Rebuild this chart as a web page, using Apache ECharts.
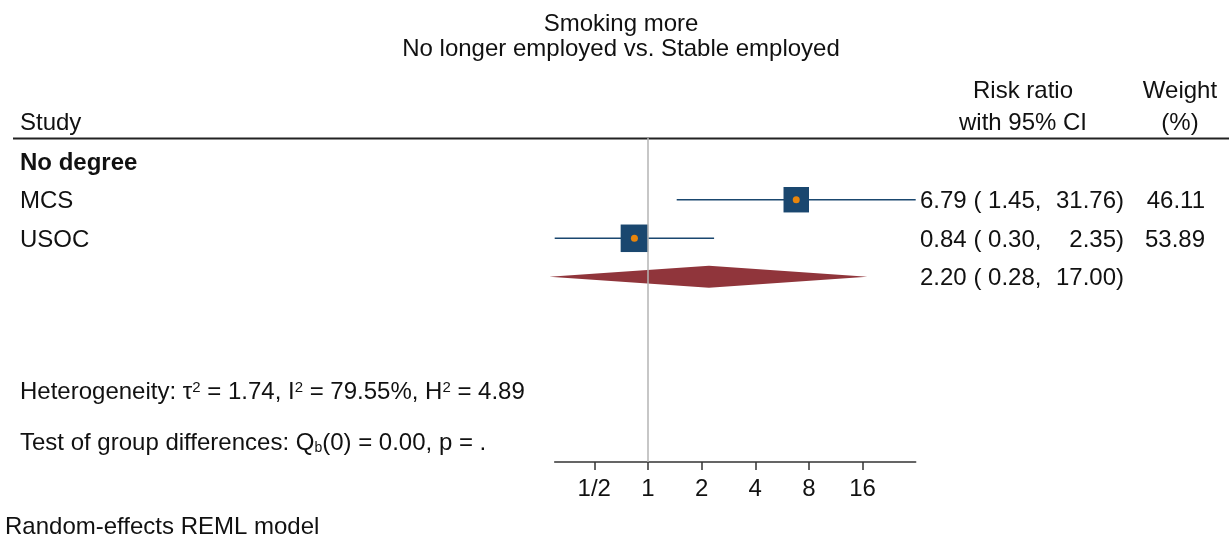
<!DOCTYPE html>
<html>
<head>
<meta charset="utf-8">
<script src="https://cdn.jsdelivr.net/npm/echarts@6/dist/echarts.min.js"></script>
<style>
html, body { margin: 0; padding: 0; background: #fff; }
#main { width: 1229px; height: 540px; }
</style>
</head>
<body>
<div id="main"></div>
<script>
// study data (risk ratio with 95% CI, weight %)
var studies = ['MCS', 'USOC'];
var ratios = [6.79, 0.84];
var lowers = [1.45, 0.30];
var uppers = [31.76, 2.35];
var weights = [46.11, 53.89];
// pooled estimate: [estimate, lower, upper]
var overall = [2.20, 0.28, 17.00];
// axis ticks
var tickValues = [0.5, 1, 2, 4, 8, 16];
var tickLabels = ['1/2', '1', '2', '4', '8', '16'];
// heterogeneity: tau2, I2, H2 ; group test: Qb, p
var hetStats = ['1.74', '79.55%', '4.89'];
var groupTest = ['0.00', '.'];

var FONT = "'Liberation Sans', Arial, sans-serif";
var FS = 24;
var DY = 2; // small vertical nudge for text
var NAVY = '#1a476f';

function log2(v) { return Math.log(v) / Math.LN2; }

// rows of the table: 0 = group header, 1.. = studies, last = pooled
var tableRows = [];
tableRows.push({ row: 0, name: 'No degree', bold: true });
for (var i = 0; i < studies.length; i++) {
	tableRows.push({
		row: i + 1,
		name: studies[i],
		ciLeft: ratios[i].toFixed(2) + ' ( ' + lowers[i].toFixed(2) + ',',
		ciRight: uppers[i].toFixed(2) + ')',
		weight: weights[i].toFixed(2)
	});
}
tableRows.push({
	row: studies.length + 1,
	name: '',
	ciLeft: overall[0].toFixed(2) + ' ( ' + overall[1].toFixed(2) + ',',
	ciRight: overall[2].toFixed(2) + ')',
	weight: ''
});

var studyData = studies.map(function(s, i) {
	return [i + 1, log2(ratios[i]), log2(lowers[i]), log2(uppers[i]), weights[i]];
});

var chart = echarts.init(document.getElementById('main'));

function txt(x, y, text, align, extra) {
	var o = {
		type: 'text',
		x: x,
		y: y + DY,
		silent: true,
		style: {
			text: text,
			font: FS + 'px ' + FONT,
			fill: '#111',
			textAlign: align || 'left',
			textVerticalAlign: 'middle'
		}
	};
	if (extra) {
		for (var k in extra) o.style[k] = extra[k];
	}
	return o;
}

var supStyle = { fontSize: 15, fontFamily: FONT, verticalAlign: 'top', padding: [0, 0, 6, 0], fill: '#111' };
var subStyle = { fontSize: 14, fontFamily: FONT, verticalAlign: 'bottom', fill: '#111' };

var option = {
	animation: false,
	backgroundColor: '#fff',
	grid: { left: 554.7, right: 1229 - 915.7, top: 138, bottom: 78 },
	xAxis: {
		type: 'value',
		min: log2(Math.min.apply(null, lowers)),
		max: log2(Math.max.apply(null, uppers)),
		splitLine: { show: false },
		axisLine: { show: true, onZero: false, lineStyle: { color: '#333', width: 1.5 } },
		axisTick: {
			show: true,
			inside: false,
			length: 8,
			customValues: tickValues.map(log2),
			lineStyle: { color: '#333', width: 1.5 }
		},
		axisLabel: {
			customValues: tickValues.map(log2),
			margin: 15,
			fontSize: FS,
			fontFamily: FONT,
			color: '#111',
			formatter: function(v) {
				return tickLabels[Math.round(v) + 1];
			}
		}
	},
	yAxis: {
		type: 'value',
		inverse: true,
		min: -0.6,
		max: 7.8,
		show: false
	},
	series: [{
		// study markers: CI line, weighted square, point estimate
		type: 'custom',
		clip: false,
		silent: true,
		data: studyData,
		renderItem: function(params, api) {
			var row = api.value(0);
			var c = api.coord([api.value(1), row]);
			var lo = api.coord([api.value(2), row]);
			var hi = api.coord([api.value(3), row]);
			var side = 3.75 * Math.sqrt(api.value(4));
			return {
				type: 'group',
				children: [{
					type: 'line',
					shape: { x1: lo[0], y1: lo[1], x2: hi[0], y2: hi[1] },
					style: { stroke: NAVY, lineWidth: 1.6 }
				}, {
					type: 'rect',
					shape: { x: c[0] - side / 2, y: c[1] - side / 2, width: side, height: side },
					style: { fill: NAVY }
				}, {
					type: 'circle',
					shape: { cx: c[0], cy: c[1], r: 3.5 },
					style: { fill: '#e8850c' }
				}]
			};
		}
	}, {
		// pooled diamond
		type: 'custom',
		clip: false,
		silent: true,
		data: [[studies.length + 1, log2(overall[0]), log2(overall[1]), log2(overall[2])]],
		renderItem: function(params, api) {
			var row = api.value(0);
			var c = api.coord([api.value(1), row]);
			var lo = api.coord([api.value(2), row]);
			var hi = api.coord([api.value(3), row]);
			return {
				type: 'polygon',
				shape: { points: [[lo[0], c[1]], [c[0], c[1] - 11], [hi[0], c[1]], [c[0], c[1] + 11]] },
				style: { fill: '#90353b' }
			};
		},
		markLine: {
			silent: true,
			symbol: 'none',
			label: { show: false },
			lineStyle: { color: '#b4b4b4', width: 1.5, type: 'solid' },
			data: [{ xAxis: 0 }]
		}
	}, {
		// table text columns
		type: 'custom',
		clip: false,
		silent: true,
		data: tableRows.map(function(r) { return [0, r.row]; }),
		renderItem: function(params, api) {
			var r = tableRows[params.dataIndex];
			var y = api.coord([0, r.row])[1];
			var kids = [];
			if (r.name) kids.push(txt(20, y, r.name, 'left', r.bold ? { font: 'bold ' + FS + 'px ' + FONT } : null));
			if (r.ciLeft) kids.push(txt(920, y, r.ciLeft, 'left'));
			if (r.ciRight) kids.push(txt(1124, y, r.ciRight, 'right'));
			if (r.weight) kids.push(txt(1205, y, r.weight, 'right'));
			return { type: 'group', children: kids };
		}
	}],
	graphic: [
		txt(621, 22, 'Smoking more', 'center'),
		txt(621, 47, 'No longer employed vs. Stable employed', 'center'),
		txt(1023, 89, 'Risk ratio', 'center'),
		txt(1023, 121, 'with 95% CI', 'center'),
		txt(1180, 89, 'Weight', 'center'),
		txt(1180, 121, '(%)', 'center'),
		txt(20, 121, 'Study', 'left'),
		{
			type: 'line',
			silent: true,
			shape: { x1: 13, y1: 138.5, x2: 1229, y2: 138.5 },
			style: { stroke: '#222', lineWidth: 2 }
		},
		txt(20, 390, 'Heterogeneity: \u03c4{s|2} = ' + hetStats[0] + ', I{s|2} = ' + hetStats[1] + ', H{s|2} = ' + hetStats[2], 'left', { rich: { s: supStyle } }),
		txt(20, 441, 'Test of group differences: Q{b|b}(0) = ' + groupTest[0] + ', p = ' + groupTest[1], 'left', { rich: { b: subStyle } }),
		txt(5, 525, 'Random-effects REML model', 'left')
	]
};

chart.setOption(option);
</script>
</body>
</html>
